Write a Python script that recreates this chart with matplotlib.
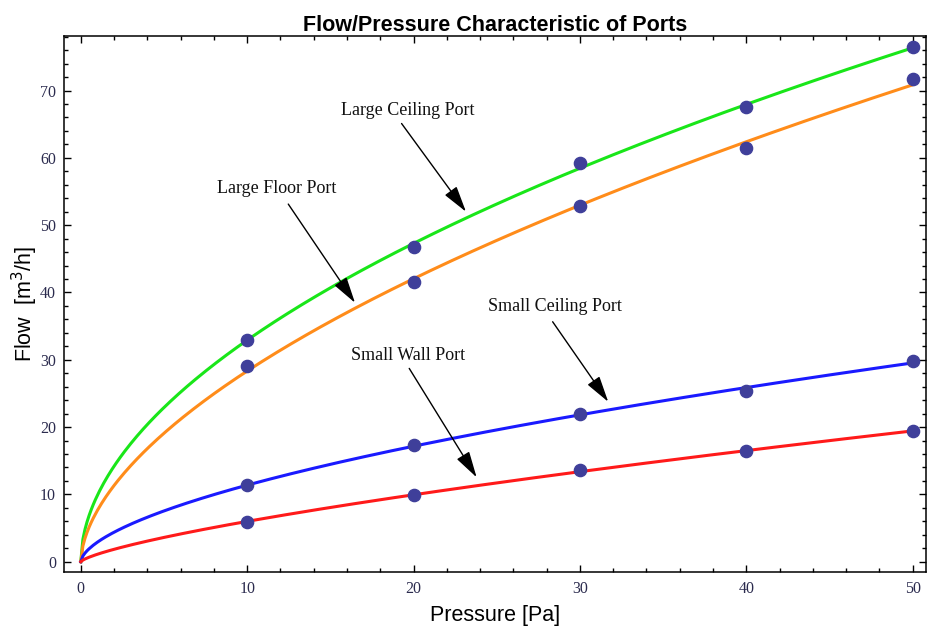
import numpy as np
import matplotlib
matplotlib.use("Agg")
import matplotlib.pyplot as plt
from matplotlib.ticker import MultipleLocator

pressure = [10, 20, 30, 40, 50]
large_ceiling = [33.0, 46.8, 59.2, 67.5, 76.4]
large_floor = [29.1, 41.5, 52.8, 61.5, 71.7]
small_ceiling = [11.35, 17.3, 21.9, 25.4, 29.8]
small_wall = [5.85, 9.96, 13.6, 16.4, 19.4]

series_names = ["Large Ceiling Port", "Large Floor Port",
                "Small Ceiling Port", "Small Wall Port"]
series_values = [large_ceiling, large_floor, small_ceiling, small_wall]
series_colors = ["#19e619", "#ff8c1a", "#1a1aff", "#ff1a1a"]

POINT = "#3f3f9a"
TICK = "#2b2b4e"


def power_fit(x, y):
    # flow = k * p^n, fitted in log space (weighted ~ linear least squares)
    x, y = np.asarray(x, float), np.asarray(y, float)
    n, logk = np.polyfit(np.log(x), np.log(y), 1, w=y)
    return np.exp(logk), n


fig = plt.figure(figsize=(9.27, 6.26), dpi=100)
ax = fig.add_axes([0.0694, 0.0858, 0.9295, 0.8567])

p = np.linspace(0, 50, 400)
for vals, color in zip(series_values, series_colors):
    k, n = power_fit(pressure, vals)
    ax.plot(p, k * p ** n, color=color, lw=2.2, zorder=2)
for vals in series_values:
    ax.plot(pressure, vals, "o", color=POINT, ms=8.8, mec=POINT, zorder=3)

# labels with arrows: (text pos, arrow start, arrow tip)
notes = [
    ((19.66, 67.0), (19.28, 65.1), (23.15, 52.0)),
    ((11.79, 55.46), (12.47, 53.13), (16.48, 38.47)),
    ((28.52, 37.87), (28.36, 35.65), (31.70, 23.76)),
    ((19.66, 30.70), (19.74, 28.72), (23.79, 12.54)),
]
for name, (txt, start, tip) in zip(series_names, notes):
    ax.text(*txt, name, family="Liberation Serif", fontsize=13,
            ha="center", va="center", color="#111111")
    ax.annotate("", xy=tip, xytext=start,
                arrowprops=dict(arrowstyle="-|>,head_length=0.9,head_width=0.25",
                                color="black", lw=1, mutation_scale=18,
                                shrinkA=0, shrinkB=0))

ax.set_xlim(-0.99, 50.8)
ax.set_ylim(-1.57, 78.1)
ax.xaxis.set_major_locator(MultipleLocator(10))
ax.xaxis.set_minor_locator(MultipleLocator(2))
ax.yaxis.set_major_locator(MultipleLocator(10))
ax.yaxis.set_minor_locator(MultipleLocator(2))
ax.tick_params(which="both", direction="in", top=True, right=True,
               color="black", width=1)
ax.tick_params(which="major", length=5, labelsize=11.5, labelcolor=TICK, pad=6)
ax.tick_params(which="minor", length=3)
for lab in ax.get_xticklabels() + ax.get_yticklabels():
    lab.set_family("Liberation Serif")
for s in ax.spines.values():
    s.set_linewidth(1.1)

ax.set_title("Flow/Pressure Characteristic of Ports", family="Liberation Sans",
             fontsize=15.5, fontweight="bold", pad=2.5)
ax.set_xlabel("Pressure [Pa]", family="Liberation Sans", fontsize=15.5, labelpad=6)
ax.set_ylabel("Flow  [m$^3$/h]", family="Liberation Sans", fontsize=15.5, labelpad=0)

fig.savefig("out.png", dpi=100)
